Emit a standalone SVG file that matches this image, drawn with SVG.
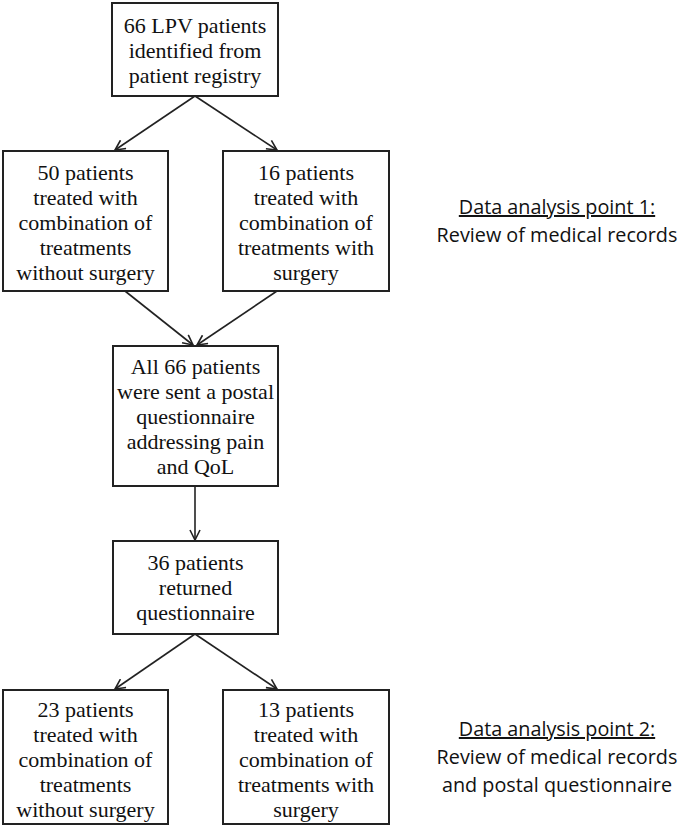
<svg xmlns="http://www.w3.org/2000/svg" width="680" height="828" viewBox="0 0 680 828">
<style>
.box{fill:#fff;stroke:#222;stroke-width:2}
.t{font-family:"Liberation Serif","Times New Roman",serif;font-size:22px;fill:#111;text-anchor:middle}
.s{font-family:"Open Sans","Liberation Sans",sans-serif;font-size:19.8px;fill:#111;text-anchor:middle}
.c{fill:none;stroke:#222;stroke-width:1.6}
</style>
<defs>
<marker id="ah" viewBox="0 0 12 12" refX="11" refY="6" markerWidth="12" markerHeight="12" markerUnits="userSpaceOnUse" orient="auto">
<path d="M1,1 L11,6 L1,11" fill="none" stroke="#222" stroke-width="1.6"/>
</marker>
</defs>
<rect width="680" height="828" fill="#fff"/>
<g id="connectors">
<line class="c" x1="195" y1="96" x2="115" y2="150" marker-end="url(#ah)"/>
<line class="c" x1="195" y1="96" x2="277" y2="150" marker-end="url(#ah)"/>
<line class="c" x1="125" y1="291" x2="193" y2="345" marker-end="url(#ah)"/>
<line class="c" x1="277" y1="291" x2="197" y2="345" marker-end="url(#ah)"/>
<line class="c" x1="195" y1="486" x2="195" y2="540" marker-end="url(#ah)"/>
<line class="c" x1="195" y1="634" x2="115" y2="689" marker-end="url(#ah)"/>
<line class="c" x1="195" y1="634" x2="277" y2="689" marker-end="url(#ah)"/>
</g>
<g id="n1">
<rect class="box" x="112" y="3" width="166" height="93"/>
<text class="t" x="195" y="33">66 LPV patients</text>
<text class="t" x="195" y="58">identified from</text>
<text class="t" x="195" y="83">patient registry</text>
</g>
<g id="n2">
<rect class="box" x="3" y="151" width="165" height="140"/>
<text class="t" x="85.5" y="180">50 patients</text>
<text class="t" x="85.5" y="205">treated with</text>
<text class="t" x="85.5" y="230">combination of</text>
<text class="t" x="85.5" y="255">treatments</text>
<text class="t" x="85.5" y="280">without surgery</text>
</g>
<g id="n3">
<rect class="box" x="223" y="151" width="166" height="140"/>
<text class="t" x="306" y="180">16 patients</text>
<text class="t" x="306" y="205">treated with</text>
<text class="t" x="306" y="230">combination of</text>
<text class="t" x="306" y="255">treatments with</text>
<text class="t" x="306" y="280">surgery</text>
</g>
<g id="n4">
<rect class="box" x="113" y="346" width="165" height="140"/>
<text class="t" x="195.5" y="374">All 66 patients</text>
<text class="t" x="195.5" y="399">were sent a postal</text>
<text class="t" x="195.5" y="424">questionnaire</text>
<text class="t" x="195.5" y="449">addressing pain</text>
<text class="t" x="195.5" y="474">and QoL</text>
</g>
<g id="n5">
<rect class="box" x="113" y="541" width="165" height="93"/>
<text class="t" x="195.5" y="570">36 patients</text>
<text class="t" x="195.5" y="595">returned</text>
<text class="t" x="195.5" y="620">questionnaire</text>
</g>
<g id="n6">
<rect class="box" x="3" y="690" width="165" height="134"/>
<text class="t" x="85.5" y="717">23 patients</text>
<text class="t" x="85.5" y="742">treated with</text>
<text class="t" x="85.5" y="767">combination of</text>
<text class="t" x="85.5" y="792">treatments</text>
<text class="t" x="85.5" y="817">without surgery</text>
</g>
<g id="n7">
<rect class="box" x="223" y="690" width="166" height="134"/>
<text class="t" x="306" y="717">13 patients</text>
<text class="t" x="306" y="742">treated with</text>
<text class="t" x="306" y="767">combination of</text>
<text class="t" x="306" y="792">treatments with</text>
<text class="t" x="306" y="817">surgery</text>
</g>
<g id="label1">
<text class="s" x="557" y="214" text-decoration="underline">Data analysis point 1:</text>
<text class="s" x="557" y="242">Review of medical records</text>
</g>
<g id="label2">
<text class="s" x="557" y="736" text-decoration="underline">Data analysis point 2:</text>
<text class="s" x="557" y="764">Review of medical records</text>
<text class="s" x="557" y="792">and postal questionnaire</text>
</g>
</svg>
